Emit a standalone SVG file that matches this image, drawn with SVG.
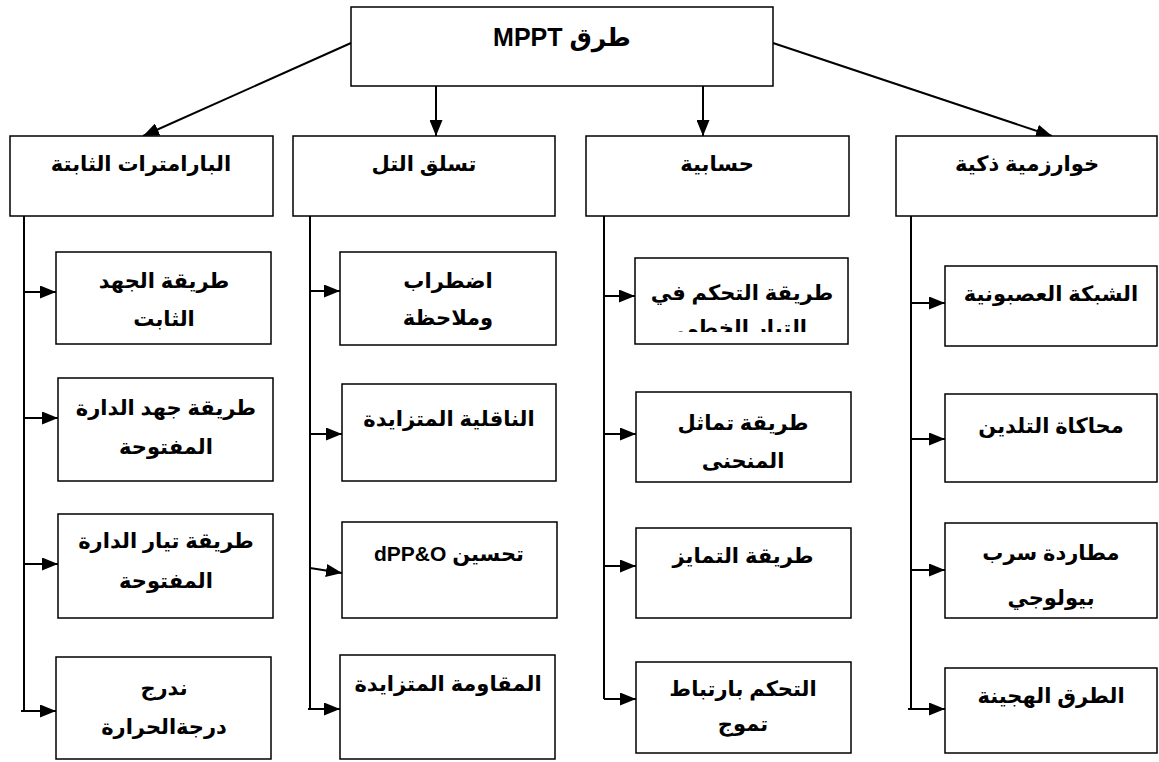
<svg xmlns="http://www.w3.org/2000/svg" width="1159" height="762" viewBox="0 0 1159 762">
<style>
.box{fill:#fff;stroke:#000;stroke-width:1.5}
.t{font-family:"Liberation Sans","DejaVu Sans",sans-serif;font-weight:bold;font-size:21px;fill:#000;text-anchor:middle;direction:rtl;unicode-bidi:embed}
.title{font-size:25px}
.c{stroke:#000;stroke-width:2;fill:none}
</style>
<defs>
<marker id="ah" viewBox="0 0 16 13" refX="16" refY="6.5" markerWidth="16" markerHeight="13" markerUnits="userSpaceOnUse" orient="auto">
<path d="M0,0 L16,6.5 L0,13 Z" fill="#000"/>
</marker>
<clipPath id="clip3a"><rect x="635" y="258" width="213" height="74"/></clipPath>
</defs>
<rect width="1159" height="762" fill="#fff"/>

<g id="connectors">
<path class="c" d="M351,43 L143,136" marker-end="url(#ah)"/>
<path class="c" d="M436,86 L436,136" marker-end="url(#ah)"/>
<path class="c" d="M703,86 L703,136" marker-end="url(#ah)"/>
<path class="c" d="M773,43 L1052,136" marker-end="url(#ah)"/>
<path class="c" d="M24,216 L24,711"/>
<path class="c" d="M24,292 L56,292" marker-end="url(#ah)"/>
<path class="c" d="M24,418 L58,418" marker-end="url(#ah)"/>
<path class="c" d="M24,564 L58,564" marker-end="url(#ah)"/>
<path class="c" d="M21,711 L56,711" marker-end="url(#ah)"/>
<path class="c" d="M310,216 L310,709"/>
<path class="c" d="M310,291 L340,291" marker-end="url(#ah)"/>
<path class="c" d="M310,434 L342,434" marker-end="url(#ah)"/>
<path class="c" d="M310,568 L342,573" marker-end="url(#ah)"/>
<path class="c" d="M308,709 L340,709" marker-end="url(#ah)"/>
<path class="c" d="M604,216 L604,699"/>
<path class="c" d="M604,296 L635,296" marker-end="url(#ah)"/>
<path class="c" d="M604,434 L636,434" marker-end="url(#ah)"/>
<path class="c" d="M604,566 L636,566" marker-end="url(#ah)"/>
<path class="c" d="M604,699 L636,699" marker-end="url(#ah)"/>
<path class="c" d="M911,216 L911,709"/>
<path class="c" d="M911,303 L945,303" marker-end="url(#ah)"/>
<path class="c" d="M911,439 L945,439" marker-end="url(#ah)"/>
<path class="c" d="M911,570 L945,570" marker-end="url(#ah)"/>
<path class="c" d="M908,709 L945,709" marker-end="url(#ah)"/>
</g>

<g id="root">
<rect class="box" x="351" y="7" width="422" height="79"/>
<text class="t title" x="562" y="46">طرق MPPT</text>
</g>

<g id="fixed-params">
<rect class="box" x="10" y="136" width="263" height="80"/>
<text class="t" x="141" y="171">البارامترات الثابتة</text>
</g>
<g id="hill-climbing">
<rect class="box" x="293" y="136" width="262" height="80"/>
<text class="t" x="424" y="171">تسلق التل</text>
</g>
<g id="computational">
<rect class="box" x="586" y="136" width="263" height="80"/>
<text class="t" x="717" y="171">حسابية</text>
</g>
<g id="intelligent">
<rect class="box" x="896" y="136" width="261" height="80"/>
<text class="t" x="1027" y="171">خوارزمية ذكية</text>
</g>

<g id="cv">
<rect class="box" x="56" y="252" width="215" height="92"/>
<text class="t" x="164" y="288">طريقة الجهد</text>
<text class="t" x="164" y="326">الثابت</text>
</g>
<g id="ocv">
<rect class="box" x="58" y="378" width="215" height="103"/>
<text class="t" x="166" y="415">طريقة جهد الدارة</text>
<text class="t" x="166" y="454">المفتوحة</text>
</g>
<g id="scc">
<rect class="box" x="58" y="514" width="215" height="104"/>
<text class="t" x="166" y="548">طريقة تيار الدارة</text>
<text class="t" x="166" y="588">المفتوحة</text>
</g>
<g id="temp">
<rect class="box" x="56" y="657" width="215" height="102"/>
<text class="t" x="164" y="695">ندرج</text>
<text class="t" x="164" y="734">درجةالحرارة</text>
</g>

<g id="po">
<rect class="box" x="340" y="252" width="216" height="93"/>
<text class="t" x="448" y="288">اضطراب</text>
<text class="t" x="448" y="325">وملاحظة</text>
</g>
<g id="inc">
<rect class="box" x="342" y="384" width="214" height="97"/>
<text class="t" x="449" y="426">الناقلية المتزايدة</text>
</g>
<g id="dpo">
<rect class="box" x="342" y="522" width="215" height="96"/>
<text class="t" x="449" y="561">تحسين dPP&amp;O</text>
</g>
<g id="incr">
<rect class="box" x="340" y="655" width="215" height="104"/>
<text class="t" x="448" y="691">المقاومة المتزايدة</text>
</g>

<g id="lcc">
<rect class="box" x="635" y="258" width="213" height="86"/>
<text class="t" x="742" y="300">طريقة التحكم في</text>
<text class="t" x="742" y="335" clip-path="url(#clip3a)">التيار الخطي</text>
</g>
<g id="curve">
<rect class="box" x="636" y="392" width="215" height="90"/>
<text class="t" x="743" y="430">طريقة تماثل</text>
<text class="t" x="743" y="468">المنحنى</text>
</g>
<g id="diff">
<rect class="box" x="636" y="528" width="215" height="90"/>
<text class="t" x="743" y="563">طريقة التمايز</text>
</g>
<g id="rcc">
<rect class="box" x="636" y="662" width="215" height="91"/>
<text class="t" x="743" y="696">التحكم بارتباط</text>
<text class="t" x="743" y="731">تموج</text>
</g>

<g id="nn">
<rect class="box" x="945" y="266" width="212" height="80"/>
<text class="t" x="1051" y="301">الشبكة العصبونية</text>
</g>
<g id="sa">
<rect class="box" x="945" y="394" width="212" height="88"/>
<text class="t" x="1051" y="433">محاكاة التلدين</text>
</g>
<g id="bfo">
<rect class="box" x="945" y="523" width="212" height="95"/>
<text class="t" x="1051" y="560">مطاردة سرب</text>
<text class="t" x="1051" y="605">بيولوجي</text>
</g>
<g id="hybrid">
<rect class="box" x="945" y="668" width="212" height="85"/>
<text class="t" x="1051" y="703">الطرق الهجينة</text>
</g>
</svg>
